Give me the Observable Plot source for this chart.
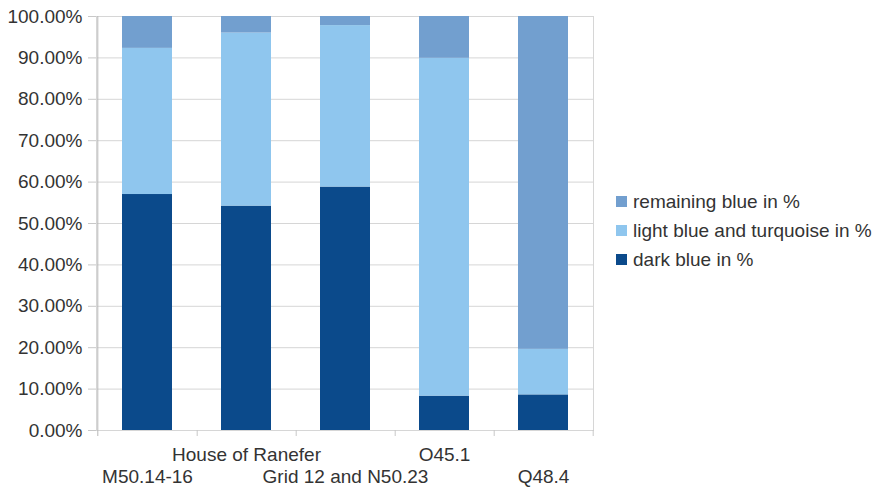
<!DOCTYPE html>
<html>
<head>
<meta charset="utf-8">
<script src="https://cdn.jsdelivr.net/npm/d3@7"></script>
<script src="https://cdn.jsdelivr.net/npm/@observablehq/plot@0.6"></script>
<style>
  html, body { margin: 0; padding: 0; background: #fff; }
  #wrap { position: relative; width: 883px; height: 489px; font-family: "Liberation Sans", Arial, sans-serif; }
  #legend { position: absolute; left: 616px; top: 187px; font-size: 19px; color: #333; }
  .item { display: flex; align-items: center; height: 29px; white-space: nowrap; }
  .sw { width: 10.5px; height: 10.5px; margin-right: 6.5px; flex: none; }
</style>
</head>
<body>
<div id="wrap"><div id="chart"></div><div id="legend"></div></div>
<script>
const categories = ["M50.14-16", "House of Ranefer", "Grid 12 and N50.23", "O45.1", "Q48.4"];
const series = ["dark blue in %", "light blue and turquoise in %", "remaining blue in %"];
const darkBlue = [57.0, 54.2, 58.8, 8.3, 8.6];
const lightBlue = [35.3, 41.8, 39.0, 81.6, 11.0];
const remainingBlue = [7.7, 4.0, 2.2, 10.1, 80.4];
const yTicks = [0, 10, 20, 30, 40, 50, 60, 70, 80, 90, 100];
const colors = ["#0b4a8b", "#8fc6ee", "#729fcf"];
const legendOrder = ["remaining blue in %", "light blue and turquoise in %", "dark blue in %"];

const valuesBySeries = [darkBlue, lightBlue, remainingBlue];
const data = [];
series.forEach((s, si) => categories.forEach((c, ci) => data.push({category: c, series: s, value: valuesBySeries[si][ci]})));

const W = 883, H = 489, ML = 96, MR = 290, MT = 16, MB = 59;
const step = (W - ML - MR) / categories.length;
const plotH = H - MT - MB;

const chart = Plot.plot({
  width: W, height: H,
  marginLeft: ML, marginRight: MR, marginTop: MT, marginBottom: MB,
  style: {fontFamily: "Liberation Sans, Arial, sans-serif", fontSize: "19px", color: "#333", background: "#fff"},
  x: {domain: categories, paddingInner: 0.5, paddingOuter: 0.25, label: null},
  y: {domain: [0, 100], label: null},
  color: {domain: series, range: colors},
  marks: [
    Plot.ruleY(yTicks, {y: d => d, stroke: "#d6d6d6", strokeWidth: 1}),
    Plot.frame({stroke: "#d6d6d6"}),
    Plot.ruleX(categories, {x: d => d, dx: step / 2, insetTop: plotH, insetBottom: -6, stroke: "#c8c8c8"}),
    Plot.ruleX([categories[0]], {x: d => d, dx: -step / 2, stroke: "#b8b8b8", insetBottom: -6}),
    Plot.barY(data, {x: "category", y: "value", fill: "series", order: series}),
    Plot.axisY({ticks: yTicks, tickFormat: d => d.toFixed(2) + "%", tickSize: 8, tickPadding: 6, stroke: "#c8c8c8", fill: "#333", label: null}),
    Plot.axisX({ticks: categories.filter((d, i) => i % 2 === 1), tickSize: 0, tickPadding: 17, fill: "#333", label: null}),
    Plot.axisX({ticks: categories.filter((d, i) => i % 2 === 0), tickSize: 0, tickPadding: 39, fill: "#333", label: null})
  ]
});
document.getElementById("chart").appendChild(chart);

const legend = document.getElementById("legend");
legendOrder.forEach(name => {
  const item = document.createElement("div");
  item.className = "item";
  const sw = document.createElement("span");
  sw.className = "sw";
  sw.style.background = colors[series.indexOf(name)];
  const t = document.createElement("span");
  t.textContent = name;
  item.appendChild(sw);
  item.appendChild(t);
  legend.appendChild(item);
});
</script>
</body>
</html>
